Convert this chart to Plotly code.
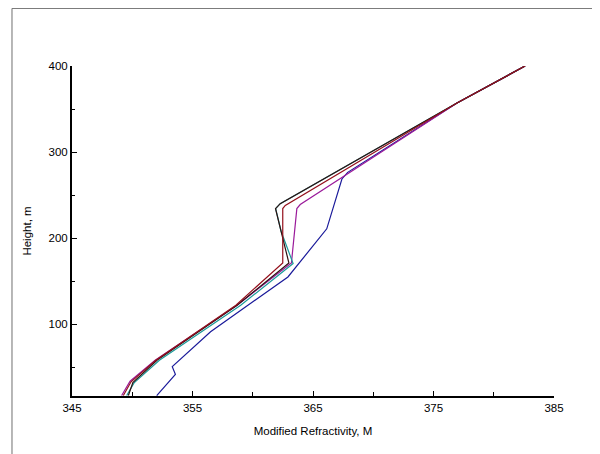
import plotly.graph_objects as go

# Modified refractivity profiles (M units) vs height (m)
black_h = [17, 32, 58, 122, 171, 234.3, 240, 357, 400]
black_m = [349.68, 350.05, 352.05, 358.7, 363.0, 361.89, 362.28, 376.95, 382.6]

maroon_h = [17, 33, 58, 122, 171.2, 234.3, 238, 357, 400]
maroon_m = [349.26, 349.9, 351.95, 358.6, 362.49, 362.49, 362.7, 376.95, 382.6]

magenta_h = [17, 33.7, 58, 122, 171.2, 234.3, 239, 357, 400]
magenta_m = [349.12, 349.82, 351.9, 358.7, 363.21, 363.66, 363.94, 376.95, 382.6]

teal_h = [17, 31.8, 58, 122, 170.4, 208, 234.3, 240, 357, 400]
teal_m = [349.54, 350.15, 352.25, 359.0, 363.35, 362.35, 361.9, 362.28, 376.95, 382.6]

blue_h = [17, 41.7, 50.6, 91.2, 154.8, 203, 210.8, 268.7, 276.4, 357, 400]
blue_m = [352.03, 353.58, 353.32, 356.5, 362.92, 365.72, 366.14, 367.4, 367.88, 376.95, 382.6]

series = [
    (blue_m, blue_h, "#1a1a9a"),
    (magenta_m, magenta_h, "#9a1a9a"),
    (teal_m, teal_h, "#1a9a9a"),
    (black_m, black_h, "#301010"),
    (maroon_m, maroon_h, "#94101c"),
]

fig = go.Figure()
for m, h, c in series:
    fig.add_trace(go.Scatter(x=m, y=h, mode="lines",
                             line=dict(color=c, width=1.2),
                             showlegend=False, hoverinfo="skip"))

font = dict(family="Liberation Sans, Arial, sans-serif", size=11.5, color="#000")

fig.update_layout(
    width=592, height=446,
    margin=dict(l=64, r=46, t=58, b=58),
    paper_bgcolor="white", plot_bgcolor="white",
    font=font,
    shapes=[dict(type="rect", xref="paper", yref="paper",
                 x0=-0.1245, x1=1.3, y0=-0.4, y1=1.1745,
                 line=dict(color="#707070", width=1), layer="below")],
)

fig.update_xaxes(
    range=[345, 385], tickvals=[345, 355, 365, 375, 385],
    showgrid=False, zeroline=False,
    showline=True, linecolor="black", linewidth=2,
    ticks="inside", ticklen=5, tickwidth=1, tickcolor="black",
    minor=dict(tickvals=[350, 360, 370, 380], ticks="inside", ticklen=4,
               tickcolor="black", showgrid=False),
    title=dict(text="Modified Refractivity, M", font=font, standoff=14),
)
fig.update_yaxes(
    range=[16.5, 400], tickvals=[100, 200, 300, 400],
    showgrid=False, zeroline=False,
    showline=True, linecolor="black", linewidth=2,
    ticks="inside", ticklen=5, tickwidth=1, tickcolor="black",
    minor=dict(tickvals=[50, 150, 250, 350], ticks="inside", ticklen=3,
               tickcolor="black", showgrid=False),
    title=dict(text="Height, m", font=font, standoff=14),
)

fig.write_html("out.html")
